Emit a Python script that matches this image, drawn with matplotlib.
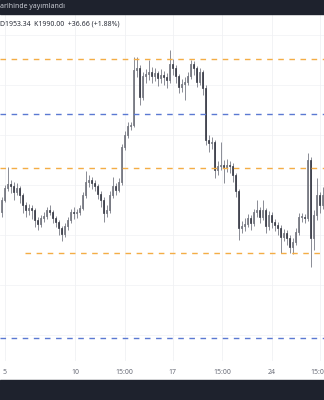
import numpy as np
import matplotlib
matplotlib.use("Agg")
import matplotlib.pyplot as plt
from matplotlib.patches import Rectangle

# candle data
closes = [1985, 1997, 2001, 1999, 1993, 1997, 1990, 1980, 1975, 1977,
          1975, 1965, 1961, 1967, 1969, 1975, 1973, 1967, 1963, 1957,
          1951, 1959, 1965, 1973, 1972, 1973, 1977, 1990, 2003, 2005,
          2002, 1999, 1991, 1985, 1972, 1975, 1990, 1999, 1995, 2003,
          2038, 2050, 2059, 2060, 2115, 2117, 2088, 2109, 2111, 2113,
          2109, 2112, 2107, 2110, 2108, 2105, 2121, 2117, 2109, 2098,
          2101, 2103, 2109, 2121, 2117, 2103, 2113, 2097, 2045, 2042,
          2043, 2015, 2019, 2020, 2018, 2020, 2019, 2010, 1994, 1957,
          1959, 1961, 1967, 1962, 1973, 1975, 1968, 1975, 1959, 1970,
          1963, 1960, 1957, 1948, 1952, 1947, 1938, 1943, 1953, 1968,
          1968, 1967, 2025, 1947, 1970, 1990, 1980, 1990]
highs = [1988, 2000, 2018, 2005, 2003, 2002, 1999, 1992, 1983, 1981,
         1980, 1977, 1968, 1970, 1973, 1978, 1980, 1975, 1969, 1965,
         1959, 1962, 1968, 1976, 1978, 1976, 1980, 1993, 2014, 2010,
         2008, 2005, 2001, 1994, 1988, 1980, 1994, 2008, 2002, 2007,
         2041, 2054, 2063, 2063, 2128, 2128, 2120, 2113, 2116, 2125,
         2118, 2117, 2114, 2116, 2114, 2112, 2135, 2126, 2120, 2111,
         2106, 2108, 2113, 2125, 2124, 2119, 2117, 2115, 2100, 2050,
         2048, 2045, 2024, 2043, 2025, 2026, 2024, 2022, 2012, 1996,
         1964, 1967, 1971, 1970, 1976, 1985, 1978, 1985, 1977, 1974,
         1973, 1966, 1963, 1960, 1956, 1955, 1950, 1947, 1957, 1972,
         1972, 1971, 2032, 2028, 1975, 2007, 1993, 1998]
lows = [1968, 1983, 1994, 1992, 1985, 1990, 1982, 1972, 1968, 1970,
        1966, 1958, 1955, 1958, 1963, 1966, 1970, 1962, 1958, 1950,
        1944, 1948, 1955, 1962, 1966, 1967, 1970, 1975, 1987, 1998,
        1996, 1994, 1986, 1978, 1963, 1968, 1972, 1987, 1990, 1993,
        2000, 2035, 2047, 2055, 2058, 2108, 2080, 2085, 2102, 2105,
        2102, 2104, 2099, 2102, 2100, 2097, 2102, 2110, 2102, 2092,
        2093, 2085, 2100, 2106, 2110, 2098, 2100, 2090, 2040, 2033,
        2036, 2007, 2010, 2015, 2002, 2013, 2012, 2003, 1988, 1945,
        1952, 1954, 1958, 1955, 1959, 1968, 1962, 1965, 1952, 1955,
        1957, 1954, 1950, 1932, 1944, 1940, 1932, 1931, 1940, 1950,
        1963, 1962, 1964, 1918, 1935, 1965, 1972, 1976]
first_open = 1973
opens = [first_open] + closes[:-1]

levels = [2126.5, 2071.5, 2017.5, 1932.5, 1847.5]
level_colors = ['#f4ad45', '#5b79d2', '#f4ad45', '#f4ad45', '#5b79d2']
level_start = [-0.5, -0.5, -0.5, 7.8, -0.5]

tick_pos = [1, 24.5, 41, 57, 73.5, 90, 106]
tick_labels = ['5', '10', '15:00', '17', '15:00', '24', '15:00']

dark = '#1e222d'

fig = plt.figure(figsize=(3.24, 4.0), dpi=100)
fig.patch.set_facecolor('white')
ax = fig.add_axes([0, 44 / 400, 1, 342 / 400])
ax.set_facecolor('white')

x = np.arange(len(closes))
o = np.array(opens)
c = np.array(closes)
up = c >= o

# faint grid
for p in [2150, 2100, 2050, 2000, 1950, 1900, 1850]:
    ax.axhline(p, color='#f3f4f6', lw=0.6, zorder=0)
for t in tick_pos:
    ax.axvline(t, color='#f0f1f4', lw=0.6, zorder=0)

# wicks
ax.vlines(x, lows, highs, color='#777a84', lw=0.6, zorder=2)
# bodies
body = np.maximum(np.abs(c - o), 0.8)
bottom = np.minimum(c, o)
ax.bar(x[up], body[up], bottom=bottom[up], width=0.64,
       color='white', edgecolor='#62656f', linewidth=0.55, zorder=3)
ax.bar(x[~up], body[~up], bottom=bottom[~up], width=0.64,
       color='#363944', edgecolor='#363944', linewidth=0.5, zorder=3)

# horizontal levels
for lv, col, xs in zip(levels, level_colors, level_start):
    ax.hlines(lv, xs, len(closes) - 0.5, colors=col, lw=1.0,
              linestyles=(0, (4, 4)), zorder=4)

ax.set_xlim(-0.5, len(closes) - 0.5)
ax.set_ylim(1829, 2171)
ax.set_xticks([])
ax.set_yticks([])
for s in ax.spines.values():
    s.set_visible(False)

# x labels (the last one runs off the right edge, as in the original)
for t, lab in zip(tick_pos, tick_labels):
    xf = (t + 0.5) / len(closes)
    fig.text(xf, 1 - 373 / 400, lab, ha='center', va='center',
             fontsize=5, color='#6a6d78', family='Noto Sans')
for t in tick_pos:
    xf = (t + 0.5) / len(closes)
    fig.add_artist(plt.Line2D([xf, xf], [1 - 360 / 400, 1 - 356 / 400],
                              color='#f0f1f4', lw=0.6))

# dark bands
fig.add_artist(Rectangle((0, 1 - 14 / 400), 1, 14 / 400, transform=fig.transFigure,
                         color=dark, zorder=10))
fig.add_artist(Rectangle((0, 0), 1, 20 / 400, transform=fig.transFigure,
                         color=dark, zorder=10))
fig.text(0.0, 1 - 7 / 400, 'arihinde yayımlandı', ha='left', va='center',
         fontsize=5, color='#c9ccd4', family='Noto Sans', zorder=11)
fig.text(0.0, 1 - 24 / 400, 'D1953.34  K1990.00  +36.66 (+1.88%)', ha='left',
         va='center', fontsize=5, color='#2a2e39', family='Noto Sans', zorder=11)

fig.savefig('out.png', dpi=100, facecolor='white')
